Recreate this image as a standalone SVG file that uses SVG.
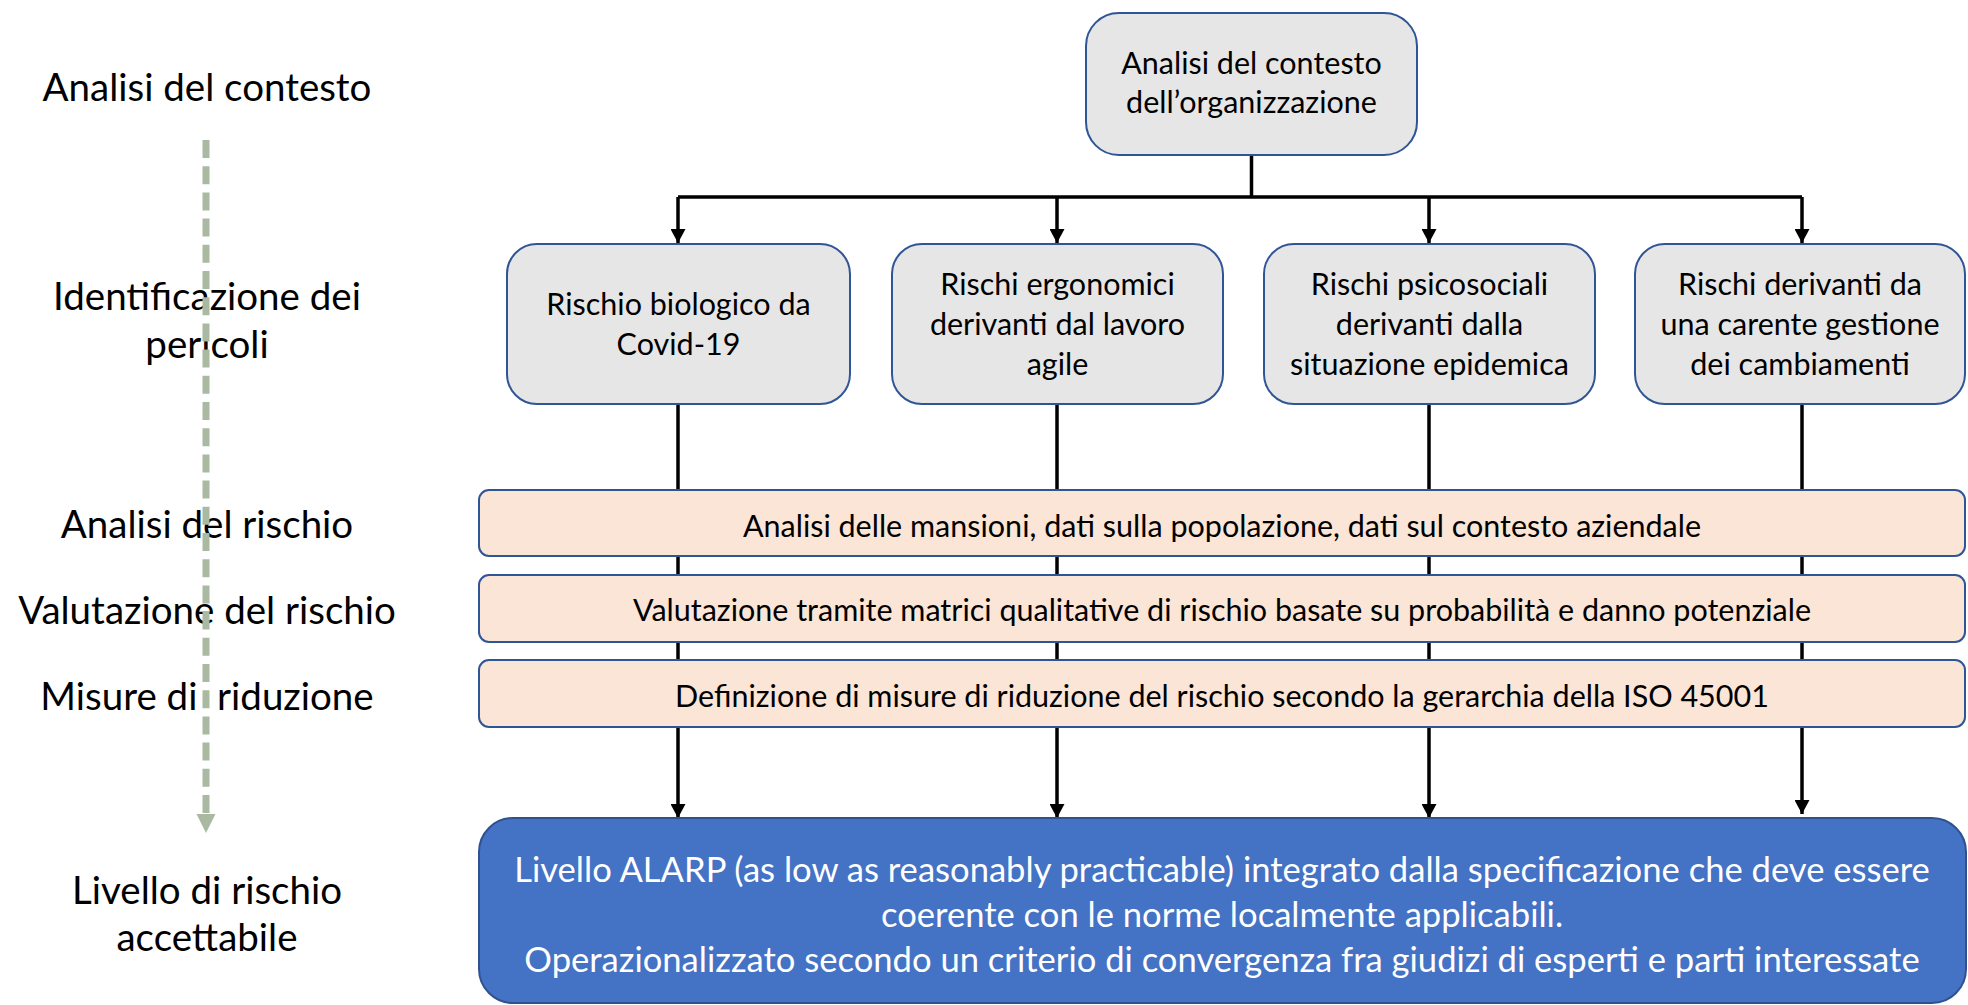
<svg xmlns="http://www.w3.org/2000/svg" width="1968" height="1005" viewBox="0 0 1968 1005">
<defs>
<marker id="ah" markerUnits="userSpaceOnUse" viewBox="0 0 14 15" refX="14" refY="7.5" markerWidth="14" markerHeight="15" orient="auto"><path d="M0,0 L14,7.5 L0,15 z" fill="#000"/></marker>
</defs>
<style>
text{font-family:Lato,"Liberation Sans",sans-serif;text-anchor:middle;fill:#000}
.lbl{font-size:38.5px}
.t{font-size:30.5px}
.w{font-size:34.6px;fill:#fff}
.box{fill:#E7E6E6;stroke:#2F5597;stroke-width:2}
.band{fill:#FBE5D6;stroke:#2F5597;stroke-width:2}
.big{fill:#4472C4;stroke:#2F528F;stroke-width:2}
.conn{stroke:#000;stroke-width:3.5;fill:none}
.arr{marker-end:url(#ah)}
</style>
<rect width="1968" height="1005" fill="#fff"/>

<g id="connectors">
<path class="conn" d="M1251.5,155 V197 M678,197 H1802"/>
<path class="conn arr" d="M678,197 V243"/>
<path class="conn arr" d="M1057,197 V243"/>
<path class="conn arr" d="M1429,197 V243"/>
<path class="conn arr" d="M1802,197 V243"/>
<path class="conn arr" d="M678,404 V818"/>
<path class="conn arr" d="M1057,404 V818"/>
<path class="conn arr" d="M1429,404 V818"/>
<path class="conn arr" d="M1802,404 V814"/>
</g>

<g id="left-labels">
<text class="lbl" x="207" y="101">Analisi del contesto</text>
<text class="lbl" x="207" y="310">Identificazione dei</text>
<text class="lbl" x="207" y="358">pericoli</text>
<text class="lbl" x="207" y="538">Analisi del rischio</text>
<text class="lbl" x="207" y="624">Valutazione del rischio</text>
<text class="lbl" x="207" y="710" xml:space="preserve">Misure di  riduzione</text>
<text class="lbl" x="207" y="904">Livello di rischio</text>
<text class="lbl" x="207" y="951">accettabile</text>
</g>

<g id="phase-arrow">
<line x1="206" y1="140" x2="206" y2="815" stroke="#AAB9A2" stroke-width="7" stroke-dasharray="18 8.2"/>
<polygon points="196.5,814 215.5,814 206,833" fill="#AAB9A2"/>
</g>

<g id="node-contesto">
<rect class="box" x="1086" y="13" width="331" height="142" rx="33"/>
<text class="t" x="1251.5" y="74">Analisi del contesto</text>
<text class="t" x="1251.5" y="113">dell’organizzazione</text>
</g>

<g id="node-biologico">
<rect class="box" x="507" y="244" width="343" height="160" rx="30"/>
<text class="t" x="678.5" y="315">Rischio biologico da</text>
<text class="t" x="678.5" y="355">Covid-19</text>
</g>

<g id="node-ergonomici">
<rect class="box" x="892" y="244" width="331" height="160" rx="30"/>
<text class="t" x="1057.5" y="295">Rischi ergonomici</text>
<text class="t" x="1057.5" y="335">derivanti dal lavoro</text>
<text class="t" x="1057.5" y="375">agile</text>
</g>

<g id="node-psicosociali">
<rect class="box" x="1264" y="244" width="331" height="160" rx="30"/>
<text class="t" x="1429.5" y="295">Rischi psicosociali</text>
<text class="t" x="1429.5" y="335">derivanti dalla</text>
<text class="t" x="1429.5" y="375">situazione epidemica</text>
</g>

<g id="node-cambiamenti">
<rect class="box" x="1635" y="244" width="330" height="160" rx="30"/>
<text class="t" x="1800" y="295">Rischi derivanti da</text>
<text class="t" x="1800" y="335">una carente gestione</text>
<text class="t" x="1800" y="375">dei cambiamenti</text>
</g>

<g id="node-analisi-rischio">
<rect class="band" x="479" y="490" width="1486" height="66" rx="10"/>
<text class="t" x="1222" y="537">Analisi delle mansioni, dati sulla popolazione, dati sul contesto aziendale</text>
</g>

<g id="node-valutazione">
<rect class="band" x="479" y="575" width="1486" height="67" rx="10"/>
<text class="t" x="1222" y="621">Valutazione tramite matrici qualitative di rischio basate su probabilità e danno potenziale</text>
</g>

<g id="node-misure">
<rect class="band" x="479" y="660" width="1486" height="67" rx="10"/>
<text class="t" x="1222" y="707">Definizione di misure di riduzione del rischio secondo la gerarchia della ISO 45001</text>
</g>

<g id="node-alarp">
<rect class="big" x="479" y="818" width="1487" height="185" rx="34"/>
<text class="w" x="1222" y="882">Livello ALARP (as low as reasonably practicable) integrato dalla specificazione che deve essere</text>
<text class="w" x="1222" y="927">coerente con le norme localmente applicabili.</text>
<text class="w" x="1222" y="972">Operazionalizzato secondo un criterio di convergenza fra giudizi di esperti e parti interessate</text>
</g>
</svg>
